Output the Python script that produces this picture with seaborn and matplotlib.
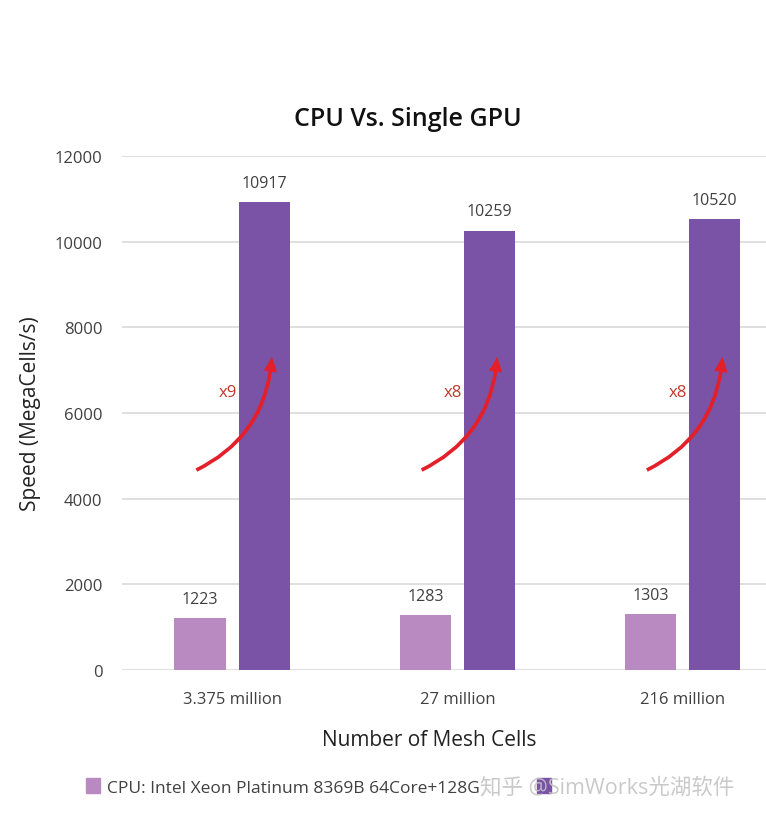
import matplotlib
matplotlib.use("Agg")
import matplotlib.pyplot as plt
import seaborn as sns
import pandas as pd
from matplotlib.patches import Patch

categories = ["3.375 million", "27 million", "216 million"]
cpu_values = [1223, 1283, 1303]
gpu_values = [10917, 10259, 10520]
series_names = ["CPU: Intel Xeon Platinum 8369B 64Core+128G", "GPU"]
speedups = ["x9", "x8", "x8"]
colors = ["#B98AC2", "#7A52A6"]

df = pd.DataFrame({
    "cells": categories * 2,
    "speed": cpu_values + gpu_values,
    "device": [series_names[0]] * 3 + [series_names[1]] * 3,
})

sns.set_theme(style="white")
plt.rcParams["font.family"] = ["Open Sans", "Noto Sans CJK SC", "DejaVu Sans"]

fig = plt.figure(figsize=(7.66, 8.2), dpi=100)
ax = fig.add_axes([0.159, 0.1817, 0.841, 0.6268])

sns.barplot(data=df, x="cells", y="speed", hue="device", order=categories,
            hue_order=series_names, palette=colors, width=0.57, gap=0.2,
            saturation=1, ax=ax, legend=False, linewidth=0)

ax.set_xlim(-0.49, 2.37)
ax.set_ylim(0, 12000)
ax.set_yticks(range(0, 12001, 2000))
ax.yaxis.grid(True, color="#D9D9D9", linewidth=1.2)
ax.set_axisbelow(True)
for s in ax.spines.values():
    s.set_visible(False)
ax.tick_params(axis="both", length=0, labelsize=12, colors="#404040")
ax.tick_params(axis="y", pad=14)
ax.tick_params(axis="x", pad=15)

for cont in ax.containers:
    ax.bar_label(cont, fmt="%d", padding=8, fontsize=11.5, color="#404040")

ax.set_xlabel("Number of Mesh Cells", fontsize=15, color="#222222", labelpad=16)
ax.xaxis.label.set_x(0.478)
ax.set_ylabel("Speed (MegaCells/s)", fontsize=15, color="#222222", labelpad=10)
ax.set_title("CPU Vs. Single GPU", fontsize=18, fontweight="semibold",
             color="#111111", pad=22, x=0.444)

for i, lab in enumerate(speedups):
    ax.annotate("", xy=(i + 0.177, 7380), xytext=(i - 0.17, 4640),
                arrowprops=dict(arrowstyle="simple,head_width=0.8,head_length=0.9,tail_width=0.22",
                                connectionstyle="arc3,rad=0.3", color="#E3202A", lw=0))
    ax.text(i - 0.02, 6490, lab, color="#C0392B", fontsize=12, ha="center", va="center")

handles = [Patch(color=colors[0]), Patch(color=colors[1])]
fig.legend(handles, [series_names[0], ""], loc="center left", bbox_to_anchor=(0.092, 0.039),
           ncol=2, frameon=False, fontsize=12.5, handlelength=0.8, handleheight=0.9,
           handletextpad=0.4, columnspacing=3.3, labelcolor="#404040")
fig.text(0.627, 0.039, "知乎 @SimWorks光湖软件", fontsize=15.5, color="#C4C4C4",
         ha="left", va="center", alpha=0.9, zorder=20)

fig.savefig("out.png", dpi=100)
